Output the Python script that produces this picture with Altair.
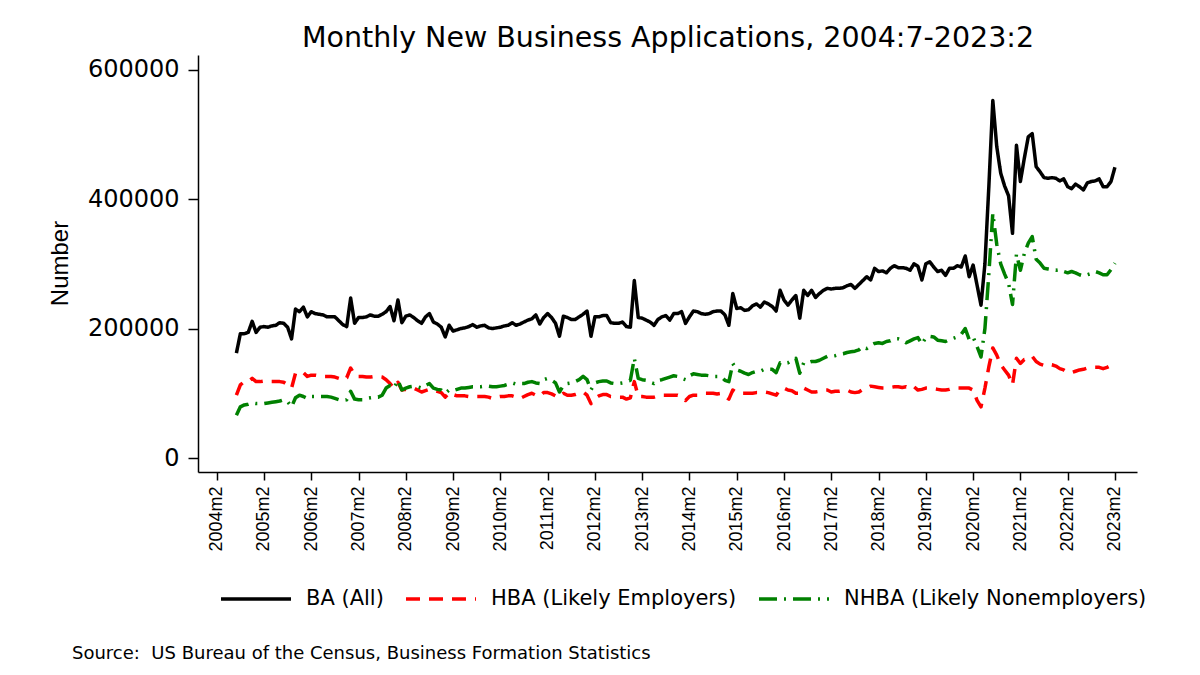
import altair as alt
import pandas as pd

# ---- data (values in thousands of applications), monthly 2004m7 .. 2023m2 ----
START_YEAR, START_MONTH = 2004, 7
SERIES_NAMES = ["BA (All)", "HBA (Likely Employers)", "NHBA (Likely Nonemployers)"]

ba_k = [162, 192, 192, 194, 211, 194, 202, 203, 202, 204, 205, 209, 208, 202, 184, 230, 226, 233, 218, 226,
        223, 222, 221, 218, 218, 218, 212, 206, 203, 247, 208, 217, 217, 218, 221, 219, 219, 222, 226, 234,
        212, 244, 209, 219, 221, 217, 212, 208, 218, 223, 210, 207, 202, 187, 205, 196, 198, 200, 201, 203,
        206, 202, 204, 205, 201, 200, 201, 202, 204, 205, 209, 205, 207, 210, 213, 215, 221, 207, 217, 223,
        217, 208, 188, 219, 217, 214, 214, 218, 222, 227, 188, 218, 218, 220, 220, 209, 208, 208, 210, 203,
        202, 274, 217, 216, 213, 210, 205, 214, 218, 220, 213, 223, 223, 226, 208, 218, 227, 226, 223, 222,
        223, 226, 227, 227, 221, 205, 254, 231, 232, 228, 229, 235, 238, 233, 241, 238, 234, 227, 259, 244,
        236, 244, 251, 216, 259, 251, 259, 248, 254, 259, 262, 261, 262, 262, 263, 266, 268, 262, 268, 274,
        280, 275, 293, 288, 289, 286, 293, 297, 294, 294, 293, 290, 300, 296, 275, 300, 303, 295, 288, 290,
        282, 293, 293, 297, 295, 312, 280, 298, 267, 236, 300, 420, 552, 481, 440, 420, 405, 347, 483, 427,
        463, 496, 501, 450, 442, 433, 432, 433, 432, 428, 431, 419, 416, 423, 419, 414, 425, 427, 428, 431,
        419, 419, 427, 449]

hba_k = [97, 113, 118, 118, 123, 118, 118, 119, 118, 118, 118, 118, 117, 113, 108, 131, 133, 132, 126, 128,
         128, 127, 126, 126, 126, 125, 123, 120, 124, 139, 128, 126, 126, 125, 125, 126, 126, 125, 121, 115,
         108, 117, 105, 106, 106, 108, 105, 102, 104, 106, 105, 103, 101, 94, 101, 98, 96, 96, 96, 95,
         95, 95, 95, 95, 94, 92, 94, 95, 95, 96, 96, 94, 92, 95, 98, 100, 97, 95, 101, 101,
         99, 96, 94, 100, 97, 97, 98, 100, 102, 97, 84, 92, 96, 98, 98, 95, 95, 94, 94, 91,
         93, 118, 95, 95, 94, 94, 94, 96, 97, 97, 97, 97, 97, 95, 89, 95, 97, 97, 99, 100,
         100, 100, 99, 100, 95, 91, 105, 101, 100, 100, 100, 100, 101, 101, 102, 101, 99, 97, 106, 108,
         105, 104, 100, 100, 108, 105, 102, 102, 103, 105, 105, 102, 103, 103, 104, 105, 102, 101, 102, 106,
         108, 111, 110, 109, 108, 108, 109, 110, 110, 109, 110, 107, 110, 105, 106, 108, 108, 107, 106, 105,
         105, 106, 108, 108, 108, 108, 108, 105, 89, 79, 108, 141, 170, 159, 144, 136, 128, 113, 154, 146,
         152, 153, 157, 149, 145, 143, 145, 144, 142, 138, 136, 132, 132, 134, 136, 137, 139, 140, 140, 140,
         138, 140, 143, 149]

nhba_k = [66, 79, 82, 83, 85, 84, 84, 84, 85, 86, 87, 88, 90, 87, 79, 93, 97, 95, 92, 95,
          95, 95, 95, 95, 94, 92, 90, 89, 90, 103, 91, 90, 90, 92, 93, 94, 94, 97, 108, 112,
          108, 120, 105, 108, 110, 111, 110, 108, 112, 115, 108, 106, 105, 100, 105, 104, 106, 108, 108, 109,
          110, 110, 110, 111, 111, 110, 110, 111, 112, 114, 116, 114, 115, 115, 117, 118, 116, 115, 121, 123,
          120, 116, 102, 112, 115, 116, 118, 121, 126, 121, 105, 116, 118, 119, 119, 116, 115, 115, 116, 118,
          120, 154, 123, 121, 120, 117, 115, 120, 121, 123, 125, 127, 126, 123, 121, 127, 130, 129, 128, 128,
          127, 126, 126, 126, 120, 118, 146, 136, 134, 131, 129, 132, 134, 134, 137, 137, 137, 132, 147, 146,
          147, 151, 154, 131, 147, 147, 149, 149, 151, 154, 157, 157, 158, 160, 161, 163, 164, 165, 167, 172,
          169, 174, 177, 178, 177, 180, 181, 184, 184, 182, 178, 181, 184, 186, 176, 186, 188, 187, 182, 181,
          180, 183, 185, 187, 191, 200, 183, 187, 172, 156, 200, 285, 378, 330, 300, 284, 270, 237, 315, 290,
          316, 332, 342, 307, 301, 293, 292, 291, 290, 291, 288, 286, 288, 286, 283, 281, 283, 285, 288, 286,
          283, 283, 291, 301]

# x tick labels: every February, 2004m2 .. 2023m2 (Stata %tm index = months since 1960m1)
tick_years = list(range(2004, 2024))
tick_tm = [(y - 1960) * 12 + 1 for y in tick_years]
y_ticks = [0, 200000, 400000, 600000]

TITLE = "Monthly New Business Applications, 2004:7-2023:2"
SOURCE = "Source:\u00a0\u00a0US Bureau of the Census, Business Formation Statistics"

# ---- build long table ----
start_tm = (START_YEAR - 1960) * 12 + (START_MONTH - 1)
rows = []
for name, vals in zip(SERIES_NAMES, [ba_k, hba_k, nhba_k]):
    for i, v in enumerate(vals):
        rows.append({"tm": start_tm + i, "value": v * 1000, "series": name})
df = pd.DataFrame(rows)

W, H = 939, 417
LEG = dict(orient="none", legendX=21, legendY=507, direction="horizontal", title=None)

lines = alt.Chart(df).mark_line(strokeJoin="round", strokeCap="butt").encode(
    x=alt.X("tm:Q",
            scale=alt.Scale(domain=[524.25, 762.6], nice=False, zero=False),
            axis=alt.Axis(values=tick_tm,
                          labelExpr="floor(datum.value/12)+1960 + 'm' + (datum.value%12+1)",
                          labelAngle=270, labelFont="Liberation Sans", labelFontSize=18,
                          labelColor="black", labelPadding=6, tickSize=8, tickColor="black",
                          tickWidth=1.5, domainColor="black", domainWidth=1.5, grid=False,
                          title=None, labelOverlap=False, labelFlush=False)),
    y=alt.Y("value:Q",
            scale=alt.Scale(domain=[-21600, 622400], nice=False, zero=False),
            axis=alt.Axis(values=y_ticks, format="d", labelFont="DejaVu Sans", labelFontSize=24,
                          labelColor="black", labelPadding=9, tickSize=10, tickColor="black",
                          tickWidth=1.5, domainColor="black", domainWidth=1.5, grid=False,
                          title="Number", titleFont="Liberation Sans", titleFontSize=24,
                          titleFontWeight="normal", titleColor="black", titleAngle=270,
                          titleX=-138, titleY=208, titleAlign="center", titleBaseline="middle",
                          labelFlush=False)),
    color=alt.Color("series:N",
                    scale=alt.Scale(domain=SERIES_NAMES, range=["#000000", "#ff0000", "#008000"]),
                    legend=alt.Legend(symbolType="stroke", symbolSize=4900,
                                      labelFont="DejaVu Sans", labelFontSize=21, labelColor="black",
                                      labelOffset=13, columnPadding=15, padding=0, labelLimit=400,
                                      **LEG)),
    strokeDash=alt.StrokeDash("series:N",
                              scale=alt.Scale(domain=SERIES_NAMES,
                                              range=[[1, 0], [14, 9], [18, 7, 2, 7]]),
                              legend=alt.Legend(**LEG)),
    strokeWidth=alt.StrokeWidth("series:N",
                                scale=alt.Scale(domain=SERIES_NAMES, range=[3.5, 3.5, 2.2]),
                                legend=alt.Legend(**LEG)),
)

title_df = pd.DataFrame({"t": [TITLE]})
title = alt.Chart(title_df).mark_text(font="DejaVu Sans", fontSize=28.5, color="black",
                                      align="center", baseline="alphabetic").encode(
    text="t:N", x=alt.value(470), y=alt.value(-8))

src_df = pd.DataFrame({"t": [SOURCE]})
source = alt.Chart(src_df).mark_text(font="DejaVu Sans", fontSize=18, color="black",
                                     align="left", baseline="alphabetic").encode(
    text="t:N", x=alt.value(-126), y=alt.value(604))

chart = alt.layer(lines, title, source).properties(
    width=W, height=H,
    autosize=alt.AutoSizeParams(type="none"),
    padding={"left": 190, "top": 47, "right": 55, "bottom": 195},
    background="white",
).configure_view(strokeWidth=0)

chart.save("out.html", embed_options={"renderer": "svg", "actions": False})
